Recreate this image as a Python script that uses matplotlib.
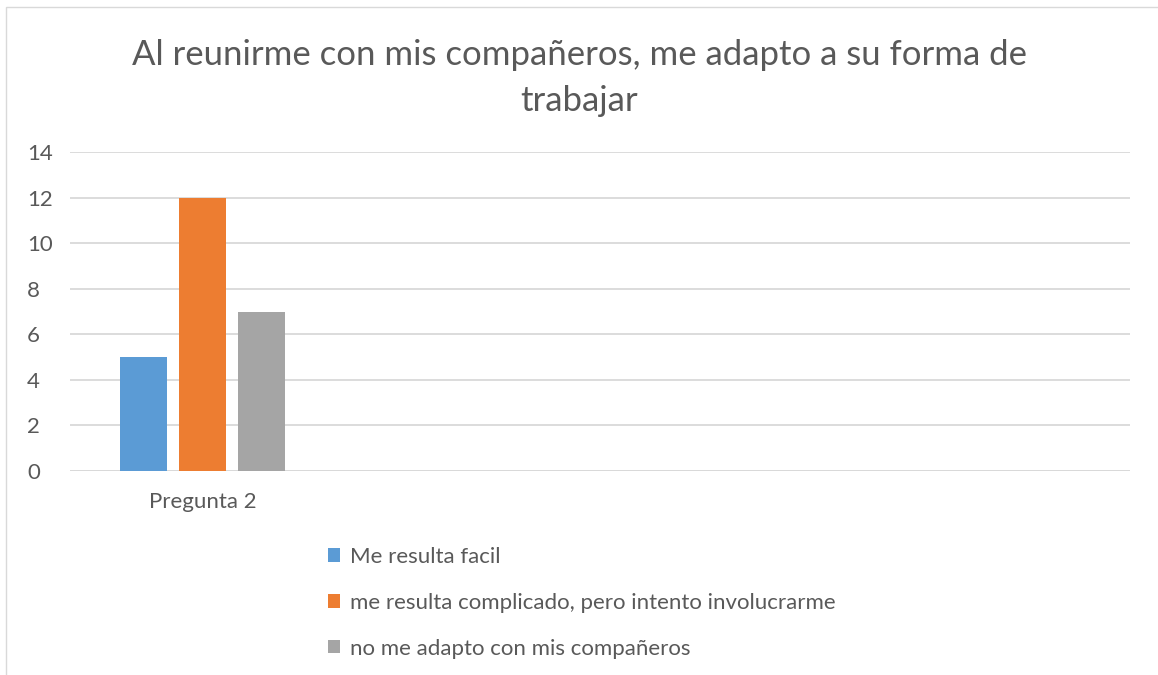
import numpy as np
import matplotlib.pyplot as plt

plt.rcParams['font.family'] = ['Lato', 'DejaVu Sans']

# Chart data
title = "Al reunirme con mis compañeros, me adapto a su forma de\ntrabajar"
categories = ["Pregunta 2", "", "", ""]
series_names = ["Me resulta facil",
                "me resulta complicado, pero intento involucrarme",
                "no me adapto con mis compañeros"]
series_values = [
    [5, np.nan, np.nan, np.nan],
    [12, np.nan, np.nan, np.nan],
    [7, np.nan, np.nan, np.nan],
]
colors = ["#5b9bd5", "#ed7d31", "#a5a5a5"]
yticks = [0, 2, 4, 6, 8, 10, 12, 14]

text_color = "#595959"
grid_color = "#d9d9d9"

fig = plt.figure(figsize=(11.58, 6.75), dpi=100)
fig.patches.append(plt.Rectangle((6 / 1158, -0.01), 1.0, 1 - 7 / 675 + 0.01,
                                 transform=fig.transFigure, fill=False,
                                 edgecolor=grid_color, linewidth=1))
ax = fig.add_axes([70 / 1158, 1 - 471 / 675, 1060 / 1158, 319 / 675])

x = np.arange(len(categories))
width = 0.177
step = 0.2226
for i, (name, vals, c) in enumerate(zip(series_names, series_values, colors)):
    ax.bar(x + (i - 1) * step, vals, width, color=c, label=name, zorder=3)

ax.set_xlim(-0.5, len(categories) - 0.5)
ax.set_ylim(0, 14)
ax.set_yticks(yticks)
ax.set_xticks(x)
ax.set_xticklabels(categories)
ax.grid(axis='y', color=grid_color, linewidth=1.3, zorder=0)
ax.axhline(0, color=grid_color, linewidth=1.3, zorder=1)
for s in ax.spines.values():
    s.set_visible(False)
ax.tick_params(axis='both', length=0, labelsize=16, colors=text_color)
ax.tick_params(axis='y', pad=31)
ax.tick_params(axis='x', pad=15)
for lbl in ax.get_yticklabels():
    lbl.set_horizontalalignment('left')

fig.text(0.5, 1 - 78 / 675, title, ha='center', va='center', fontsize=25,
         color=text_color, linespacing=1.55)

fig.legend(loc='upper left', bbox_to_anchor=(328 / 1158, 1 - 547 / 675),
           frameon=False, fontsize=16, labelcolor=text_color,
           handlelength=0.55, handleheight=0.55, handletextpad=0.45,
           labelspacing=1.16, borderaxespad=0, borderpad=0)

fig.savefig("out.png", dpi=100, facecolor="white")
